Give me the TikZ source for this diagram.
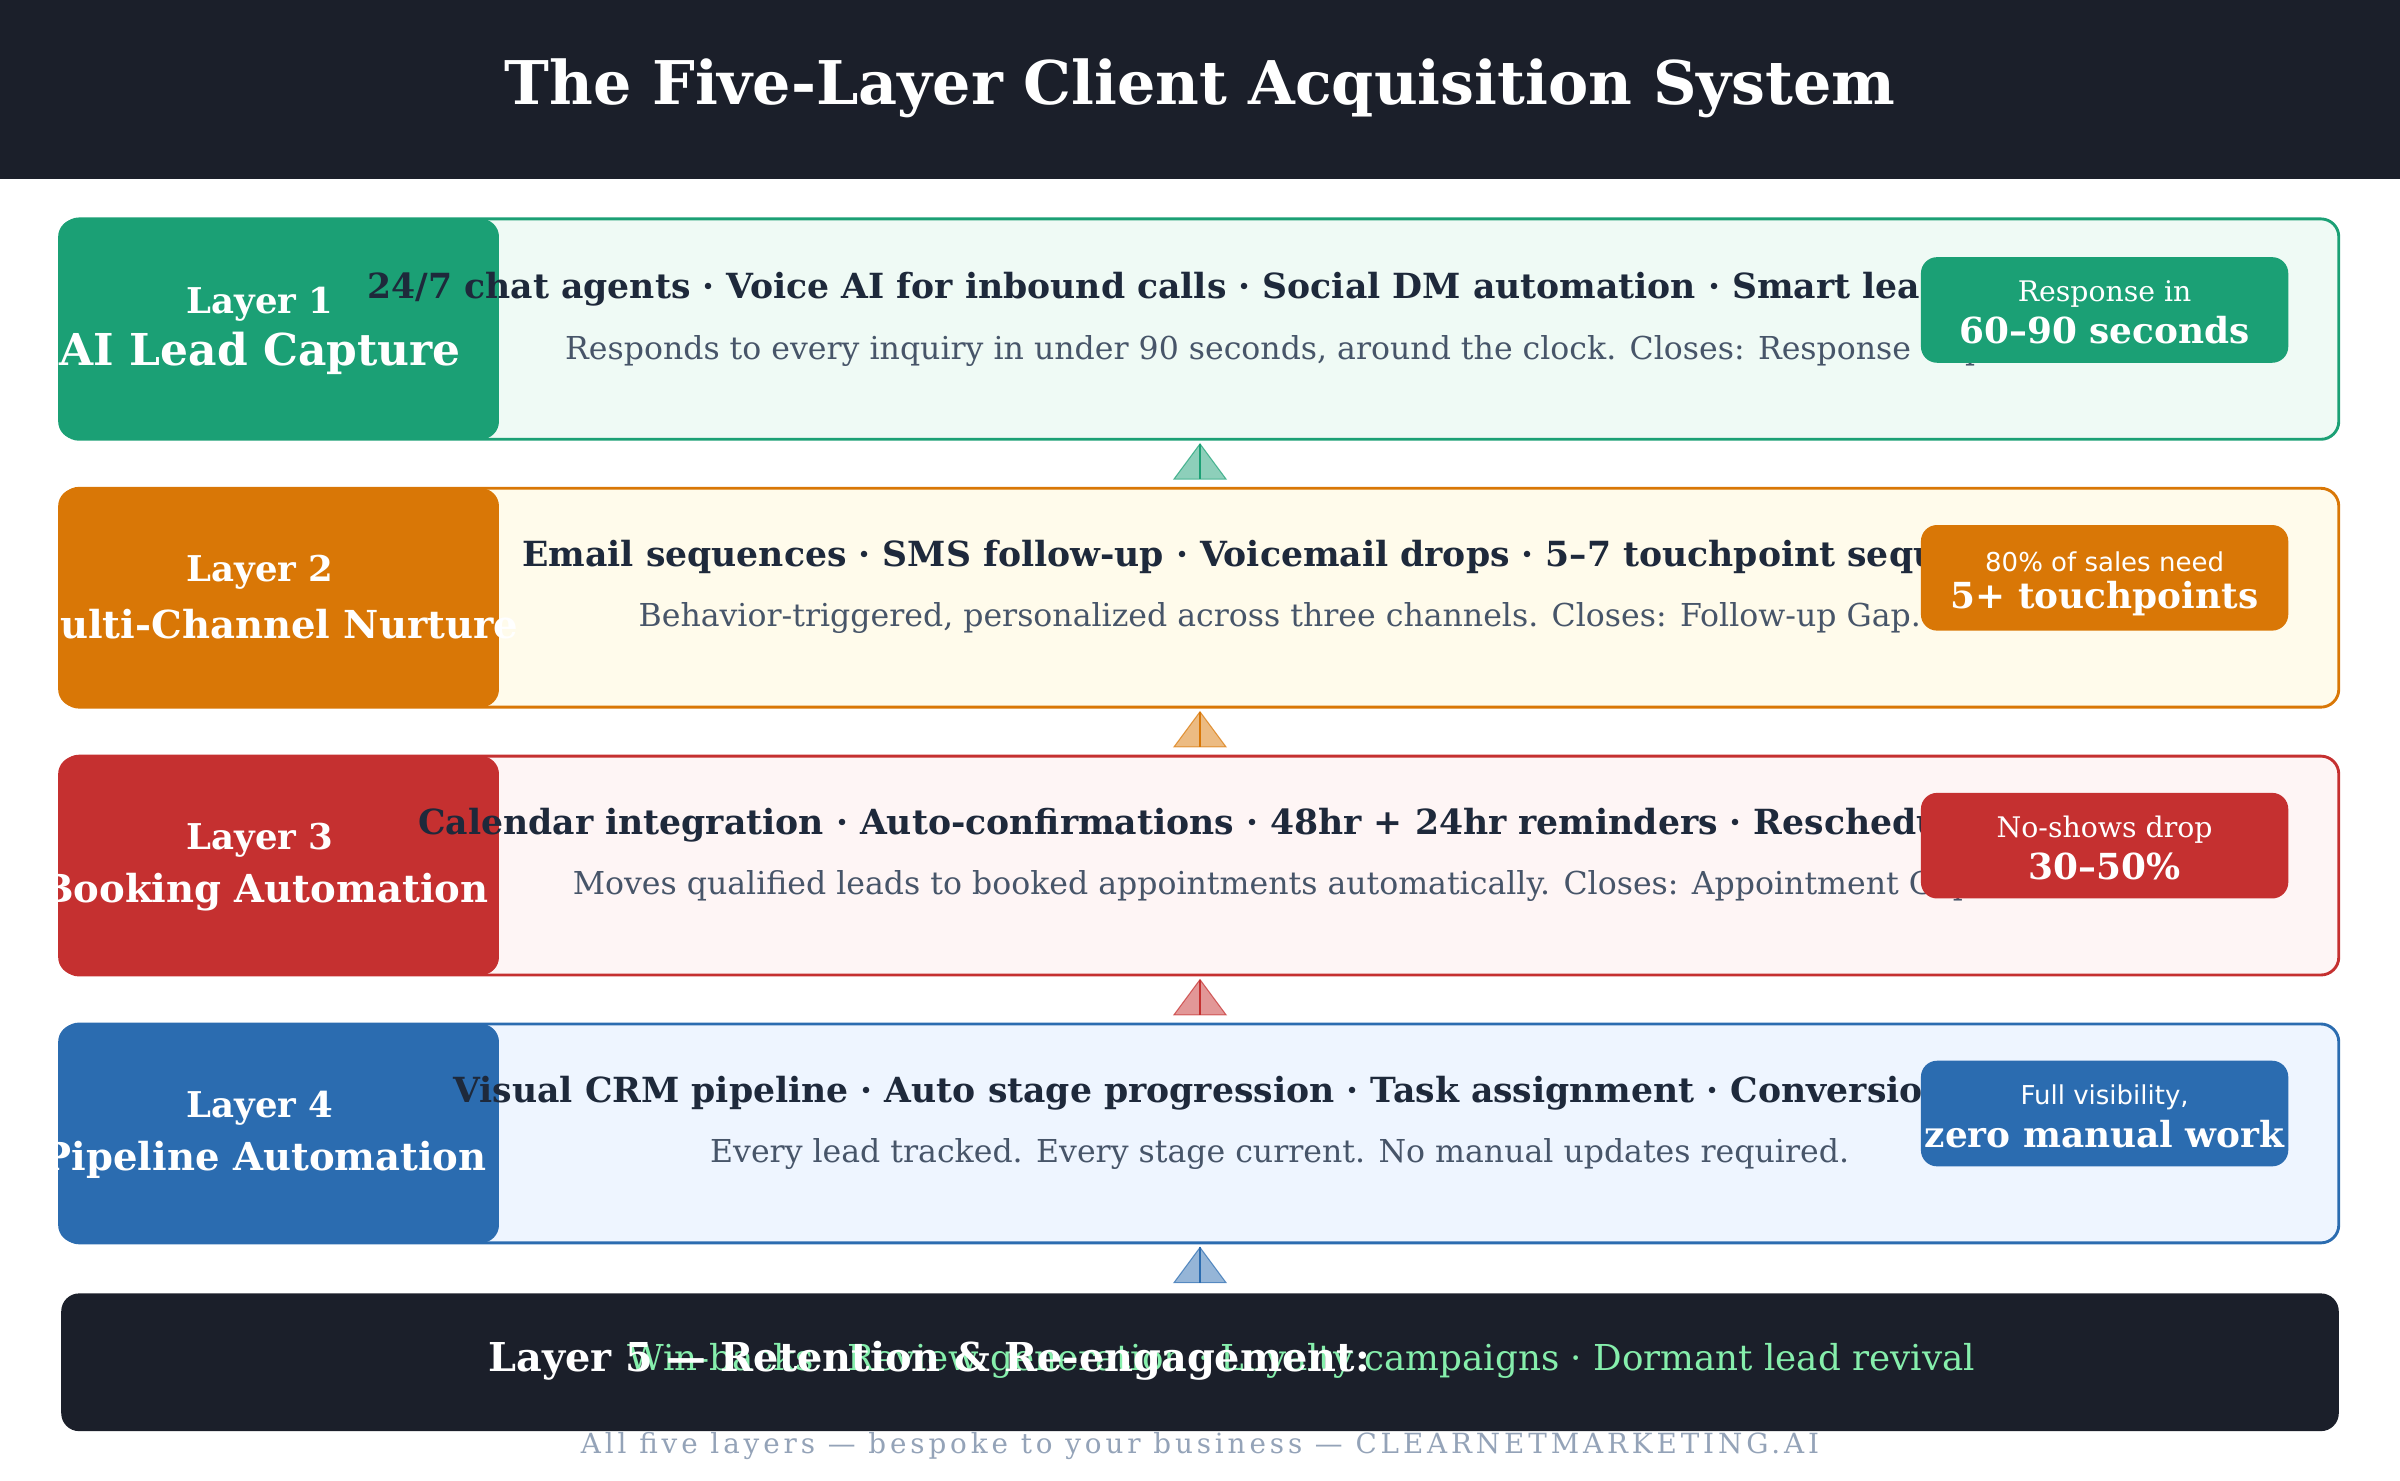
\documentclass[tikz,border=0pt]{standalone}
\usepackage{fontspec}
\setmainfont{DejaVu Serif}
\newfontfamily\sansfam{DejaVu Sans}
\usetikzlibrary{positioning}
\definecolor{ink}{HTML}{1B1F2A}
\definecolor{txt}{HTML}{1E293B}
\definecolor{sub}{HTML}{475569}
\definecolor{foot}{HTML}{94A3B8}
\definecolor{mint}{HTML}{86EFAC}
\definecolor{cA}{HTML}{1BA075}\definecolor{fA}{HTML}{EFFAF5}
\definecolor{cB}{HTML}{D97706}\definecolor{fB}{HTML}{FFFBEB}
\definecolor{cC}{HTML}{C53030}\definecolor{fC}{HTML}{FEF5F5}
\definecolor{cD}{HTML}{2B6CB0}\definecolor{fD}{HTML}{EEF5FF}
\tikzset{
  layer/.style={draw=#1, line width=1.6pt, rounded corners=10pt},
  tag/.style={fill=#1, rounded corners=9pt},
  hd/.style={text=txt, font=\bfseries\fontsize{19.3}{22}\selectfont, anchor=west, inner sep=0},
  ds/.style={text=sub, font=\fontsize{17.6}{20}\selectfont, anchor=west, inner sep=0},
  lbl/.style={text=white, font=\bfseries\fontsize{19.8}{23}\selectfont, inner sep=0},
  big/.style={text=white, font=\bfseries\fontsize{24.5}{28}\selectfont, inner sep=0},
  mid/.style={text=white, font=\bfseries\fontsize{21.5}{25}\selectfont, inner sep=0},
  bs/.style={text=white, font=\fontsize{15.8}{18}\selectfont, inner sep=0},
  bb/.style={text=white, font=\bfseries\fontsize{20}{23}\selectfont, inner sep=0},
  up/.style={fill=#1, fill opacity=0.5, draw=#1, draw opacity=0.7, line width=0.6pt}
}
\begin{document}
\begin{tikzpicture}[x=0.03cm, y=-0.03cm]
  \useasboundingbox (0,0) rectangle (1568,967);
  % header
  \fill[ink] (0,0) rectangle (1568,117);
  \node[text=white, font=\bfseries\fontsize{33.6}{38}\selectfont] (title) at (784,58) {The Five-Layer Client Acquisition System};

  % layer 1
  \draw[layer=cA, fill=fA] (40,143) rectangle (1528,287);
  \fill[cA, rounded corners=10pt] (38,143) rectangle (326,287);
  \node[lbl] (n1) at (170,199) {Layer 1};
  \node[big] (t1) at (170,231) {AI Lead Capture};
  \node[hd] (h1) at (240,189) {24/7 chat agents · Voice AI for inbound calls · Social DM automation · Smart lead};
  \node[ds] (d1) at (369,229) {Responds to every inquiry in under 90 seconds, around the clock. Closes: Response Gap};
  \fill[tag=cA] (1255,168) rectangle (1495,237);
  \node[bs] (s1) at (1375,192) {Response in};
  \node[bb] (b1) at (1375,216) {60–90 seconds};

  % layer 2
  \draw[layer=cB, fill=fB] (40,319) rectangle (1528,462);
  \fill[cB, rounded corners=10pt] (38,319) rectangle (326,462);
  \node[lbl] (n2) at (170,374) {Layer 2};
  \node[mid] (t2) at (175,408) {Multi-Channel Nurture};
  \node[hd] (h2) at (341,364) {Email sequences · SMS follow-up · Voicemail drops · 5–7 touchpoint sequences};
  \node[ds] (d2) at (417,404) {Behavior-triggered, personalized across three channels. Closes: Follow-up Gap.};
  \fill[tag=cB] (1255,343) rectangle (1495,412);
  \node[bs, font=\sansfam\fontsize{14.5}{17}\selectfont] (s2) at (1375,367) {80\% of sales need};
  \node[bb] (b2) at (1375,391) {5+ touchpoints};

  % layer 3
  \draw[layer=cC, fill=fC] (40,494) rectangle (1528,637);
  \fill[cC, rounded corners=10pt] (38,494) rectangle (326,637);
  \node[lbl] (n3) at (170,549) {Layer 3};
  \node[mid] (t3) at (173,583) {Booking Automation};
  \node[hd] (h3) at (273,539) {Calendar integration · Auto-confirmations · 48hr + 24hr reminders · Rescheduling};
  \node[ds] (d3) at (374,579) {Moves qualified leads to booked appointments automatically. Closes: Appointment Gap};
  \fill[tag=cC] (1255,518) rectangle (1495,587);
  \node[bs] (s3) at (1375,542) {No-shows drop};
  \node[bb] (b3) at (1375,566) {30–50\%};

  % layer 4
  \draw[layer=cD, fill=fD] (40,669) rectangle (1528,812);
  \fill[cD, rounded corners=10pt] (38,669) rectangle (326,812);
  \node[lbl] (n4) at (170,724) {Layer 4};
  \node[mid] (t4) at (173,758) {Pipeline Automation};
  \node[hd] (h4) at (296,714) {Visual CRM pipeline · Auto stage progression · Task assignment · Conversion tracking};
  \node[ds, anchor=center] (d4) at (836,754) {Every lead tracked. Every stage current. No manual updates required.};
  \fill[tag=cD] (1255,693) rectangle (1495,762);
  \node[bs, font=\sansfam\fontsize{14.5}{17}\selectfont] (s4) at (1375,717) {Full visibility,};
  \node[bb] (b4) at (1375,741) {zero manual work};

  % arrows between layers
  \foreach \c/\y in {cA/313, cB/488, cC/663, cD/838} {
    \draw[up=\c] (767,\y) -- (784,\y-23) -- (801,\y) -- cycle;
    \draw[\c, line width=0.8pt] (784,\y-23) -- (784,\y);
  }

  % layer 5
  \fill[ink, rounded corners=10pt] (40,845) rectangle (1528,935);
  \node[text=mint, font=\fontsize{19.9}{23}\selectfont] (w5) at (850,889) {Win-backs · Review generation · Loyalty campaigns · Dormant lead revival};
  \node[text=white, font=\bfseries\fontsize{22.2}{26}\selectfont] (n5) at (607,889) {Layer 5 — Retention \& Re-engagement:};

  % footer
  \node[text=foot, font=\fontsize{15.5}{18}\selectfont, inner sep=0] (ft) at (784,945)
    {\addfontfeature{LetterSpace=14}All five layers — bespoke to your business — CLEARNETMARKETING.AI};
\end{tikzpicture}
\end{document}
